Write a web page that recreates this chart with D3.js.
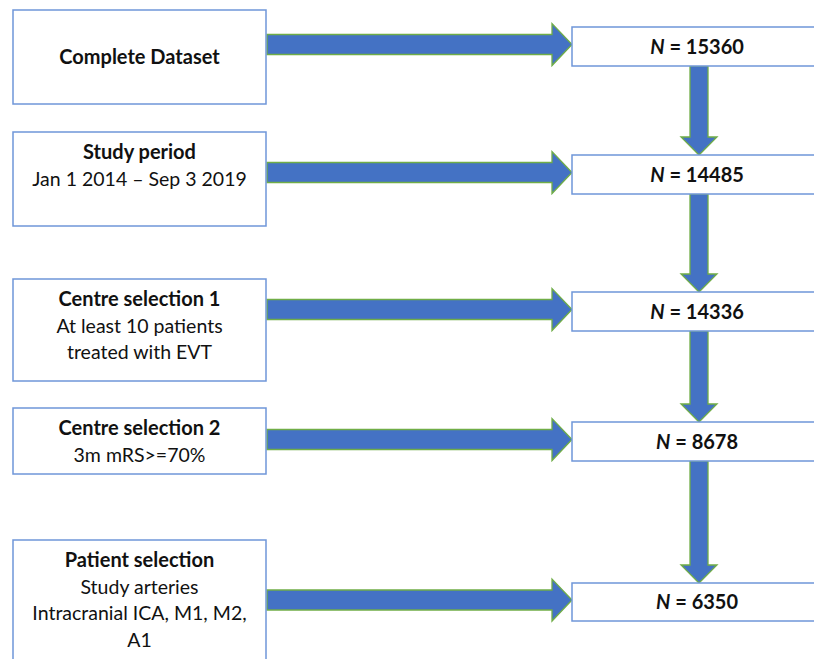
<!DOCTYPE html>
<html>
<head>
<meta charset="utf-8">
<script src="https://cdn.jsdelivr.net/npm/d3@7"></script>
<style>
  body { margin: 0; background: #fff; }
  svg { display: block; }
</style>
</head>
<body>
<div id="flow"></div>
<script>
"use strict";

// step titles (bold) and their detail lines
const stepTitles = ["Complete Dataset", "Study period", "Centre selection 1", "Centre selection 2", "Patient selection"];
const stepDetails = [
  [],
  ["Jan 1 2014 \u2013 Sep 3 2019"],
  ["At least 10 patients", "treated with EVT"],
  ["3m mRS>=70%"],
  ["Study arteries", "Intracranial ICA, M1, M2,", "A1"]
];
// patients remaining after each step
const counts = [15360, 14485, 14336, 8678, 6350];

// layout (pixels)
const width = 814, height = 659;
const leftBox = [ // top, bottom of each left box
  [10, 104], [132, 226], [279, 381], [408, 474], [540, 680]
];
const rightBox = [ // top, bottom of each N box
  [27, 66], [155, 194], [292, 331], [422, 461], [583, 621]
];
const leftX0 = 13, leftX1 = 266;
const rightX0 = 572, rightX1 = 830;
const arrowX = 699;
const hShaft = 20, hHead = 42, hHeadLen = 20;
const vShaft = 18, vHead = 36, vHeadLen = 18;

const fill = "#4472C4", arrowStroke = "#70AD47", boxStroke = "#6f96d9";
const font = "Lato, 'Open Sans', sans-serif";

const svg = d3.select("#flow").append("svg")
  .attr("width", width)
  .attr("height", height);

const rows = d3.range(counts.length);

// arrow path builders
function hArrow(x0, x1, cy) {
  const hx = x1 - hHeadLen;
  return d3.line()([
    [x0, cy - hShaft / 2], [hx, cy - hShaft / 2], [hx, cy - hHead / 2],
    [x1, cy], [hx, cy + hHead / 2], [hx, cy + hShaft / 2], [x0, cy + hShaft / 2]
  ]) + "Z";
}
function vArrow(cx, y0, y1) {
  const hy = y1 - vHeadLen;
  return d3.line()([
    [cx - vShaft / 2, y0], [cx + vShaft / 2, y0], [cx + vShaft / 2, hy],
    [cx + vHead / 2, hy], [cx, y1], [cx - vHead / 2, hy], [cx - vShaft / 2, hy]
  ]) + "Z";
}

// horizontal arrows: left box -> N box, at the N box's middle
svg.selectAll("path.h").data(rows).enter().append("path")
  .attr("class", "h")
  .attr("d", i => {
    const cy = (rightBox[i][0] + rightBox[i][1]) / 2 - 2;
    return hArrow(leftX1 + 1, rightX0, cy);
  })
  .attr("fill", fill)
  .attr("stroke", arrowStroke)
  .attr("stroke-width", 1.3);

// vertical arrows between the N boxes
svg.selectAll("path.v").data(rows.slice(1)).enter().append("path")
  .attr("class", "v")
  .attr("d", i => vArrow(arrowX, rightBox[i - 1][1], rightBox[i][0]))
  .attr("fill", fill)
  .attr("stroke", arrowStroke)
  .attr("stroke-width", 1.3);

// left boxes
const left = svg.selectAll("g.left").data(rows).enter().append("g").attr("class", "left");

left.append("rect")
  .attr("x", leftX0)
  .attr("y", i => leftBox[i][0])
  .attr("width", leftX1 - leftX0)
  .attr("height", i => leftBox[i][1] - leftBox[i][0])
  .attr("fill", "#fff")
  .attr("stroke", boxStroke)
  .attr("stroke-width", 1.5);

const lineH = 26.5;
left.append("text")
  .attr("x", (leftX0 + leftX1) / 2)
  .attr("text-anchor", "middle")
  .attr("font-family", font)
  .attr("fill", "#111")
  .each(function(i) {
    const lines = [stepTitles[i]].concat(stepDetails[i]);
    let y0;
    if (i === 0) y0 = (leftBox[i][0] + leftBox[i][1]) / 2 + 7;
    else if (i === 4) y0 = 567;
    else y0 = leftBox[i][0] + 27;
    const t = d3.select(this);
    lines.forEach((s, k) => {
      t.append("tspan")
        .attr("x", (leftX0 + leftX1) / 2)
        .attr("y", y0 + k * lineH)
        .attr("font-weight", k === 0 ? "bold" : "normal")
        .attr("font-size", k === 0 ? 20 : 19.5)
        .text(s);
    });
  });

// N boxes
const right = svg.selectAll("g.right").data(rows).enter().append("g").attr("class", "right");

right.append("rect")
  .attr("x", rightX0)
  .attr("y", i => rightBox[i][0])
  .attr("width", rightX1 - rightX0)
  .attr("height", i => rightBox[i][1] - rightBox[i][0])
  .attr("fill", "#fff")
  .attr("stroke", boxStroke)
  .attr("stroke-width", 1.5);

const nText = right.append("text")
  .attr("x", arrowX - 2)
  .attr("y", i => (rightBox[i][0] + rightBox[i][1]) / 2 + 7)
  .attr("text-anchor", "middle")
  .attr("font-family", font)
  .attr("font-size", 20)
  .attr("font-weight", "bold")
  .attr("fill", "#111");

nText.append("tspan").attr("font-style", "italic").text("N");
nText.append("tspan").text(i => " = " + counts[i]);
</script>
</body>
</html>
